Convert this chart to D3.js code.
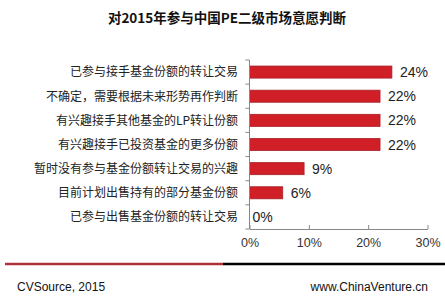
<!DOCTYPE html>
<html>
<head>
<meta charset="utf-8">
<script src="https://cdn.jsdelivr.net/npm/d3@7"></script>
<style>
  body { margin: 0; background: #fff; }
  svg { display: block; font-family: "Liberation Sans", Arial, "Noto Sans CJK SC", sans-serif; }
  .cat { font-family: "Noto Sans CJK SC", sans-serif; }
</style>
</head>
<body>
<svg width="445" height="299"></svg>
<script>
const title = "对2015年参与中国PE二级市场意愿判断"

const categories = [
  "已参与接手基金份额的转让交易",
  "不确定，需要根据未来形势再作判断",
  "有兴趣接手其他基金的LP转让份额",
  "有兴趣接手已投资基金的更多份额",
  "暂时没有参与基金份额转让交易的兴趣",
  "目前计划出售持有的部分基金份额",
  "已参与出售基金份额的转让交易"
]

// percent values
const values = [24, 22, 22, 22, 9.2, 5.6, 0]

const xTicks = [0, 10, 20, 30]

const source = "CVSource, 2015"
const site = "www.ChinaVenture.cn"

let svg = d3.select('svg')

let margin = { left: 249.5, right: 17.5, top: 60, bottom: 70 }
let w = 445 - margin.left - margin.right
let h = 299 - margin.top - margin.bottom

// Scales
let x = d3.scaleLinear().domain([0, 30]).range([margin.left, margin.left + w])
let y = d3.scaleBand()
  .domain(categories)
  .range([margin.top, margin.top + h])
  .paddingInner(0.5)
  .paddingOuter(0.25)

// Title
svg.append('text')
  .text(title)
  .attr('x', 227)
  .attr('y', 23)
  .attr('text-anchor', 'middle')
  .style('font-family', '"Noto Sans CJK SC", sans-serif')
  .style('font-weight', 'bold')
  .style('font-size', '13.5px')
  .style('fill', '#111')

// Bars
svg.selectAll('rect.bar')
  .data(values)
  .enter()
  .append('rect')
  .attr('class', 'bar')
  .attr('x', x(0))
  .attr('y', (d, i) => y(categories[i]))
  .attr('width', d => x(d) - x(0))
  .attr('height', y.bandwidth())
  .attr('fill', '#d01f27')
  .attr('stroke', d => d > 0 ? '#a82128' : 'none')
  .attr('stroke-width', 0.8)

// Value labels
svg.selectAll('text.val')
  .data(values)
  .enter()
  .append('text')
  .attr('class', 'val')
  .attr('x', d => x(d) + (d > 0 ? 8 : 3))
  .attr('y', (d, i) => y(categories[i]) + y.bandwidth() / 2)
  .attr('dy', '0.36em')
  .text(d => Math.round(d) + '%')
  .style('font-size', '14px')
  .style('fill', '#222')

// Y axis
let yAxis = d3.axisLeft(y).tickSize(0).tickFormat('')
let yG = svg.append('g')
  .attr('transform', `translate(${margin.left},0)`)
  .call(yAxis)
yG.select('.domain').attr('stroke', '#888').attr('d', `M0,${margin.top}V${margin.top + h}`)

// small ticks at band boundaries
let bounds = d3.range(categories.length + 1).map(i => margin.top + i * y.step())
yG.selectAll('line.bt')
  .data(bounds)
  .enter()
  .append('line')
  .attr('class', 'bt')
  .attr('x1', -4).attr('x2', 0)
  .attr('y1', d => d).attr('y2', d => d)
  .attr('stroke', '#888')

// Category labels
svg.selectAll('text.cat')
  .data(categories)
  .enter()
  .append('text')
  .attr('class', 'cat')
  .attr('x', 238)
  .attr('y', d => y(d) + y.bandwidth() / 2)
  .attr('dy', '0.36em')
  .attr('text-anchor', 'end')
  .text(d => d)
  .style('font-size', '12px')
  .style('fill', '#222')

// X axis
let xAxis = d3.axisBottom(x)
  .tickValues(xTicks)
  .tickSizeInner(-4)
  .tickSizeOuter(0)
  .tickPadding(9)
  .tickFormat(d => d + '%')
let xG = svg.append('g')
  .attr('transform', `translate(0,${margin.top + h})`)
  .call(xAxis)
xG.select('.domain').attr('stroke', '#888')
xG.selectAll('.tick line').attr('stroke', '#888')
xG.selectAll('.tick text')
  .style('font-size', '12.5px')
  .style('font-family', '"Liberation Sans", Arial, sans-serif')
  .style('fill', '#333')

// Footer rule
svg.append('line')
  .attr('x1', 5).attr('x2', 223)
  .attr('y1', 264).attr('y2', 264)
  .attr('stroke', '#b2323a')
  .attr('stroke-width', 2.5)
svg.append('line')
  .attr('x1', 223).attr('x2', 445)
  .attr('y1', 264).attr('y2', 264)
  .attr('stroke', '#000')
  .attr('stroke-width', 2.5)

// Footer texts
svg.append('text')
  .text(source)
  .attr('x', 17)
  .attr('y', 291)
  .style('font-size', '12px')
  .style('fill', '#111')

svg.append('text')
  .text(site)
  .attr('x', 428)
  .attr('y', 291)
  .attr('text-anchor', 'end')
  .style('font-size', '12px')
  .style('fill', '#111')
</script>
</body>
</html>
